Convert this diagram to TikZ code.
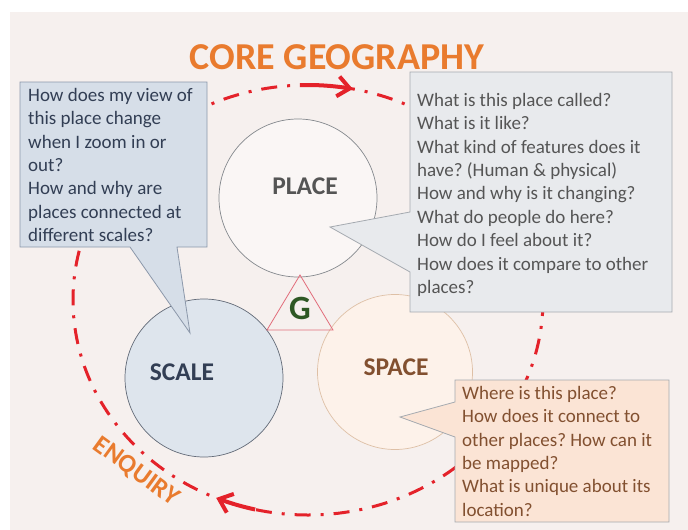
\documentclass[tikz,border=0pt]{standalone}
\usepackage{fontspec}
\setmainfont{Carlito}
\usepackage{tikz}
\usetikzlibrary{arrows.meta}
\frenchspacing

\definecolor{bgpink}{RGB}{246,240,238}
\definecolor{enqred}{RGB}{228,34,42}
\definecolor{coreorange}{RGB}{233,123,46}
\definecolor{scalefill}{RGB}{214,222,232}
\definecolor{scaleline}{RGB}{140,152,170}
\definecolor{scaletext}{RGB}{50,62,84}
\definecolor{placefill}{RGB}{232,234,237}
\definecolor{placeline}{RGB}{165,170,176}
\definecolor{placetext}{RGB}{85,85,85}
\definecolor{spacefill}{RGB}{251,228,213}
\definecolor{spaceline}{RGB}{222,192,166}
\definecolor{spacetext}{RGB}{130,80,48}
\definecolor{gtext}{RGB}{46,88,36}
\definecolor{gline}{RGB}{226,110,124}

\begin{document}
\begin{tikzpicture}[x=1pt,y=-1pt,
  qtext/.style={anchor=north west,inner sep=0pt,align=left,font=\fontsize{19}{23.4}\selectfont},
  circ/.style={circle,draw,line width=0.7pt,inner sep=0pt},
  word/.style={font=\fontsize{25.5}{30}\selectfont\bfseries},
  enq/.style={draw=enqred,line width=3pt,dash pattern=on 16pt off 10pt on 3pt off 10pt},
  enqarrow/.style={draw=enqred,line width=4pt,-{Straight Barb[length=12pt,width=20pt]}}]
\useasboundingbox (0,0) rectangle (688,530);
\fill[bgpink] (10,12) rectangle (688,530);

% enquiry loop
\draw[enq] (308,300) ellipse [x radius=235,y radius=215];
\draw[enqarrow] plot[domain=92:79,samples=15] ({308+235*cos(\x)},{300-215*sin(\x)});
\draw[enqarrow] plot[domain=257:247,samples=15] ({308+235*cos(\x)},{300-215*sin(\x)});

\node[font=\fontsize{38}{44}\selectfont\bfseries,text=coreorange] (title) at (337,57) {CORE GEOGRAPHY};
\node[rotate=-36,font=\fontsize{26}{30}\selectfont\bfseries,text=coreorange] (enquiry) at (136,472) {ENQUIRY};

% the three circles
\node[circ,draw=placeline!80!black,fill=bgpink!60!white,minimum size=158pt] (placec) at (298,198) {};
\node[circ,draw=scaleline!70!black,fill=scalefill!80!white,minimum size=158pt] (scalec) at (204,378) {};
\node[circ,draw=spaceline,fill=spacefill!50!white,minimum size=155pt] (spacec) at (395,372) {};
\node[word,text=placetext] (place) at (305,186) {PLACE};
\node[word,text=scaletext] (scale) at (182,372) {SCALE};
\node[word,text=spacetext] (space) at (396,367) {SPACE};

% G triangle
\coordinate (gtop) at (300,275);
\coordinate (gleft) at (267,330);
\coordinate (gright) at (333,330);
\draw[gline,line width=0.8pt] (gtop) -- (gleft) -- (gright) -- cycle;
\node[font=\fontsize{34}{40}\selectfont\bfseries,text=gtext] (g) at (300,308) {G};

% callouts
\filldraw[draw=scaleline,fill=scalefill,line width=0.8pt]
  (20,82) -- (207,82) -- (207,247) -- (177,247) -- (190,333) -- (130,247) -- (20,247) -- cycle;
\node[qtext,text=scaletext] (scaleq) at (28,88) {How does my view of\\this place change\\when I zoom in or\\out?\\How and why are\\places connected at\\different scales?};

\filldraw[draw=placeline,fill=placefill,line width=0.8pt]
  (410,72) -- (672,72) -- (672,312) -- (410,312) -- (410,272) -- (330,227) -- (410,212) -- cycle;
\node[qtext,text=placetext] (placeq) at (417,93) {What is this place called?\\What is it like?\\What kind of features does it\\have? (Human \& physical)\\How and why is it changing?\\What do people do here?\\How do I feel about it?\\How does it compare to other\\places?};

\filldraw[draw=placeline,fill=spacefill,line width=0.8pt]
  (455,380) -- (669,380) -- (669,522) -- (455,522) -- (455,437) -- (400,417) -- (455,402) -- cycle;
\node[qtext,text=spacetext] (spaceq) at (462,386) {Where is this place?\\How does it connect to\\other places? How can it\\be mapped?\\What is unique about its\\location?};

\end{tikzpicture}
\end{document}
